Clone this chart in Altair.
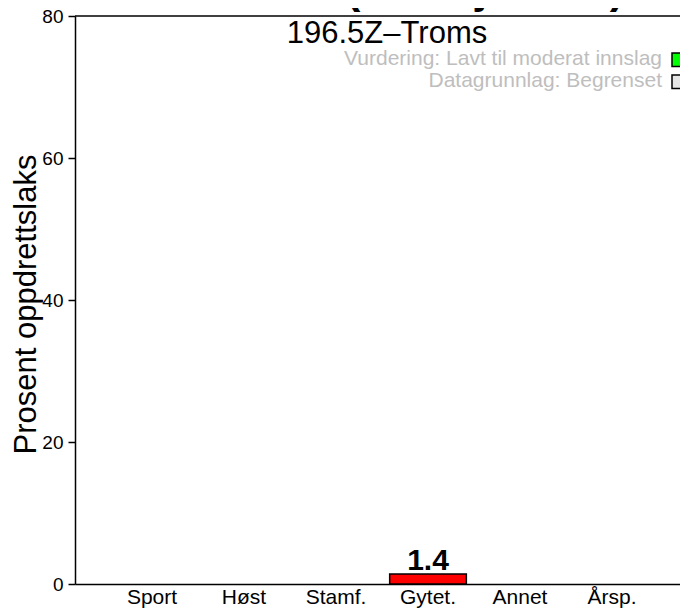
import altair as alt
import pandas as pd

FONT = "Liberation Sans"

# ---- data ----
categories = ["Sport", "Høst", "Stamf.", "Gytet.", "Annet", "Årsp."]
values = [0, 0, 0, 1.4, 0, 0]

title_text = "Lakselva (Hardfjorden)"
subtitle_text = "196.5Z–Troms"
y_title = "Prosent oppdrettslaks"
y_ticks = [0, 20, 40, 60, 80]
y_max = 80

legend_labels = ["Vurdering: Lavt til moderat innslag", "Datagrunnlag: Begrenset"]
legend_colors = ["#00FF00", "#E5E5E5"]

df = pd.DataFrame({"kategori": categories, "verdi": values})

W, H = 605, 568

x_enc = alt.X(
    "kategori:N",
    sort=categories,
    scale=alt.Scale(paddingInner=0.1667, paddingOuter=0.3715, align=0.566),
    axis=alt.Axis(
        title=None, labelAngle=0, domain=True, domainColor="black", domainWidth=1.5,
        ticks=False, tickSize=0, labelBaseline="alphabetic", labelPadding=19,
        labelFontSize=21, labelColor="black", labelFont=FONT,
    ),
)
y_enc = alt.Y(
    "verdi:Q",
    scale=alt.Scale(domain=[0, y_max], nice=False, zero=True),
    axis=alt.Axis(
        values=y_ticks, title=y_title, titleFont=FONT, titleFontSize=31,
        titleFontWeight="normal", titleColor="black", titleAngle=270,
        titleX=-40, titleY=288, titleAlign="center", titleBaseline="alphabetic",
        domain=True, domainColor="black", domainWidth=1.5, grid=False,
        tickSize=7, tickWidth=1.5, tickColor="black",
        labelFontSize=19, labelPadding=5, labelColor="black", labelFont=FONT,
    ),
)

# axis carrier (all categories) + visible bars (non-zero values)
axis_carrier = alt.Chart(df).mark_bar(opacity=0).encode(x=x_enc, y=y_enc)

bars = alt.Chart(df).transform_filter("datum.verdi > 0").mark_bar(
    color="#FF0000", stroke="black", strokeWidth=1.5
).encode(x=alt.X("kategori:N", sort=categories), y="verdi:Q")

bar_labels = alt.Chart(df).transform_filter("datum.verdi > 0").mark_text(
    font=FONT, fontSize=30, fontWeight="bold", dy=-4, baseline="alphabetic", color="black"
).encode(
    x=alt.X("kategori:N", sort=categories),
    y="verdi:Q",
    text=alt.Text("verdi:Q", format=".1f"),
)

top_border = alt.Chart(pd.DataFrame({"v": [y_max]})).mark_rule(
    color="black", strokeWidth=1.5
).encode(y="v:Q", x=alt.value(0), x2=alt.value(W + 20))

title_layer = alt.Chart(pd.DataFrame({"t": [title_text]})).mark_text(
    font=FONT, fontSize=44, fontWeight="bold", align="center", baseline="alphabetic", color="black"
).encode(text="t:N", x=alt.value(311), y=alt.value(-13))

subtitle_layer = alt.Chart(pd.DataFrame({"t": [subtitle_text]})).mark_text(
    font=FONT, fontSize=31, align="center", baseline="alphabetic", color="black"
).encode(text="t:N", x=alt.value(312), y=alt.value(27))

legend_layers = []
for i, (lab, col) in enumerate(zip(legend_labels, legend_colors)):
    ld = pd.DataFrame({"t": [lab], "c": [col]})
    base_y = 49 + 22 * i
    legend_layers.append(
        alt.Chart(ld).mark_text(
            font=FONT, fontSize=21, align="right", baseline="alphabetic", color="#BEBEBE"
        ).encode(text="t:N", x=alt.value(587), y=alt.value(base_y))
    )
    legend_layers.append(
        alt.Chart(ld).mark_rect(stroke="black", strokeWidth=1.5).encode(
            color=alt.Color("c:N", scale=None),
            x=alt.value(597), x2=alt.value(640),
            y=alt.value(base_y - 12), y2=alt.value(base_y + 1.5),
        )
    )

chart = alt.layer(
    axis_carrier, bars, bar_labels, top_border, title_layer, subtitle_layer, *legend_layers
).properties(
    width=W, height=H,
    autosize=alt.AutoSizeParams(type="none"),
    padding={"left": 67, "top": 8, "right": 0, "bottom": 24},
    background="white",
).configure_view(
    strokeWidth=0
).configure_text(font=FONT)

chart.save("out.html", embed_options={"renderer": "svg", "actions": False})
